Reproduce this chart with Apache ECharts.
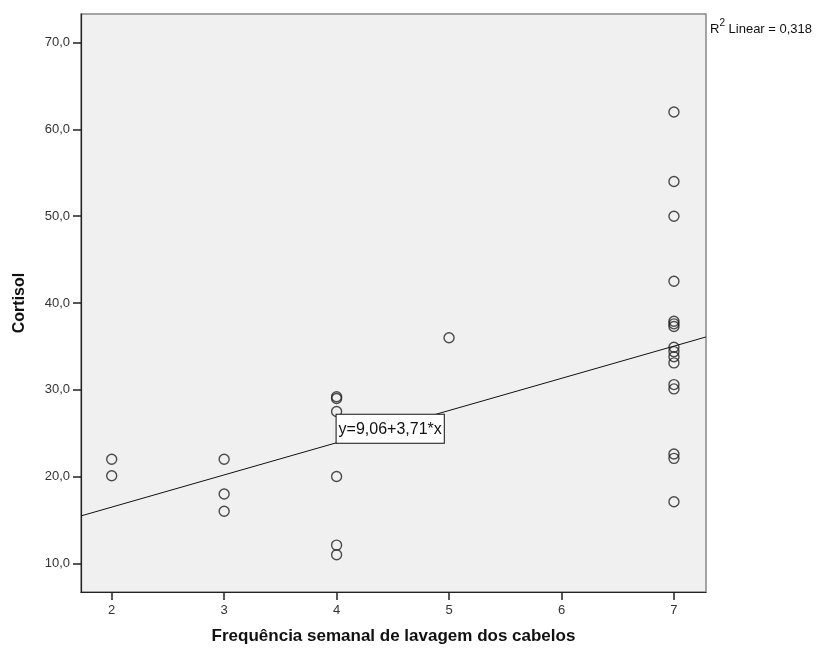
<!DOCTYPE html>
<html>
<head>
<meta charset="utf-8">
<script src="https://cdn.jsdelivr.net/npm/echarts@6/dist/echarts.min.js"></script>
<style>
html,body{margin:0;padding:0;background:#fff;}
#c{width:822px;height:653px;}
</style>
</head>
<body>
<div id="c"></div>
<script>
// Data
var washFreq = [2,2, 3,3,3, 4,4,4,4,4,4, 5, 7,7,7,7,7,7,7,7,7,7,7,7,7,7,7,7];
var cortisol = [22.0,20.1, 22.0,18.0,16.0, 29.2,29.0,27.5,20.0,12.1,11.0, 36.0,
                62.0,54.0,50.0,42.5,37.9,37.6,37.3,34.9,34.4,33.8,33.1,30.6,30.1,22.6,22.1,17.1];
var xTicks = [2,3,4,5,6,7];
var yTicks = [10,20,30,40,50,60,70];
var fitIntercept = 9.06;
var fitSlope = 3.71;
var rSquared = '0,318';
var xRange = [1.727, 7.285];
var yRange = [6.7, 73.3];
var labelX = 4;

var points = washFreq.map(function(x,i){return [x, cortisol[i]];});
function fit(x){return fitIntercept + fitSlope * x;}
var fitLine = [[xRange[0], fit(xRange[0])], [xRange[1], fit(xRange[1])]];

var font = 'Liberation Sans, Arial, sans-serif';
var chart = echarts.init(document.getElementById('c'), null, {renderer:'canvas'});
chart.setOption({
  animation:false,
  textStyle:{fontFamily:font},
  title:{
    text:'{r|R}{s|2}{r| Linear = ' + rSquared + '}',
    left:705, top:13,
    textStyle:{fontWeight:'normal', rich:{
      r:{fontSize:13, color:'#111', fontFamily:font, fontWeight:'normal', verticalAlign:'bottom', lineHeight:18},
      s:{fontSize:10, color:'#111', fontFamily:font, fontWeight:'normal', verticalAlign:'top', lineHeight:18, padding:[0,0,6,0]}
    }}
  },
  grid:{left:81, top:14, width:625, height:578, show:true, backgroundColor:'#f0f0f0', borderColor:'#888', borderWidth:1.5},
  xAxis:{
    type:'value', min:xRange[0], max:xRange[1],
    name:'Frequência semanal de lavagem dos cabelos', nameLocation:'middle', nameGap:36,
    nameTextStyle:{fontSize:17, fontWeight:'bold', color:'#111', fontFamily:font},
    axisLine:{show:true, onZero:false, lineStyle:{color:'#222', width:1.2}},
    axisTick:{show:true, length:8, customValues:xTicks, lineStyle:{color:'#222', width:1.5}},
    axisLabel:{customValues:xTicks, margin:12, fontSize:13, color:'#333', fontFamily:font},
    splitLine:{show:false}
  },
  yAxis:{
    type:'value', min:yRange[0], max:yRange[1],
    name:'Cortisol', nameLocation:'middle', nameGap:53, nameRotate:90,
    nameTextStyle:{fontSize:16, fontWeight:'bold', color:'#111', fontFamily:font},
    axisLine:{show:true, onZero:false, lineStyle:{color:'#222', width:1.2}},
    axisTick:{show:true, length:8, customValues:yTicks, lineStyle:{color:'#222', width:1.5}},
    axisLabel:{customValues:yTicks, margin:11, fontSize:13, color:'#333', fontFamily:font,
      formatter:function(v){return v.toFixed(1).replace('.', ',');}},
    splitLine:{show:false}
  },
  series:[
    {
      type:'line', data:fitLine, symbol:'none', silent:true,
      lineStyle:{color:'#111', width:1},
      markPoint:{
        symbol:'circle', symbolSize:0,
        data:[{coord:[labelX, fit(labelX)]}],
        label:{show:true, position:[0,0], align:'left', verticalAlign:'bottom',
          formatter:'y=9,06+3,71*x',
          fontSize:16, lineHeight:18, color:'#111', fontFamily:font,
          backgroundColor:'#fff', borderColor:'#111', borderWidth:1,
          padding:[6,2,4,2]}
      },
      z:3
    },
    {
      type:'scatter', data:points, symbol:'circle', symbolSize:10,
      itemStyle:{color:'rgba(0,0,0,0)', borderColor:'#222', borderWidth:1.4},
      z:2
    }
  ]
});
</script>
</body>
</html>
